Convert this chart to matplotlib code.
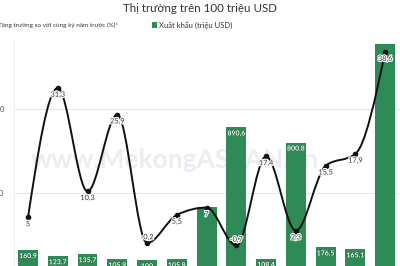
import numpy as np
import matplotlib
matplotlib.use('Agg')
import matplotlib.pyplot as plt
import matplotlib.patheffects as pe
from matplotlib.path import Path
from matplotlib.patches import PathPatch, Rectangle

plt.rcParams['font.family'] = ['Lato', 'DejaVu Sans']

# Dữ liệu
xuat_khau = [160.9, 123.7, 135.7, 105.9, 100, 105.8, 417, 890.6, 108.4, 800.8, 176.5, 165.1, 1387]
nhan_cot = ['160,9', '123,7', '135,7', '105,9', '100', '105,8', '', '890,6', '108,4', '800,8', '176,5', '165,1', '']
tang_truong = [5, 31.3, 10.3, 25.9, -0.2, 5.5, 7, -0.7, 17.4, 2.3, 15.5, 17.9, 38.6]
nhan_duong = ['5', '31,3', '10,3', '25,9', '-0,2', '5,5', '7', '-0,7', '17,4', '2,3', '15,5', '17,9', '38,6']

GREEN = '#2e8b57'

def monotone_path(x, y):
    # duong cong monotoneX (kieu d3) ve bang Bezier
    x = np.asarray(x, float); y = np.asarray(y, float)
    n = len(x)
    h = np.diff(x)
    s = np.diff(y) / h
    t = np.zeros(n)
    for i in range(1, n - 1):
        p = (s[i-1] * h[i] + s[i] * h[i-1]) / (h[i-1] + h[i])
        t[i] = (np.sign(s[i-1]) + np.sign(s[i])) * min(abs(s[i-1]), abs(s[i]), 0.5 * abs(p))
    t[0] = (3 * s[0] - t[1]) / 2
    t[-1] = (3 * s[-1] - t[-2]) / 2
    verts = [(x[0], y[0])]
    codes = [Path.MOVETO]
    for i in range(n - 1):
        dx = h[i] / 3
        verts += [(x[i] + dx, y[i] + dx * t[i]), (x[i+1] - dx, y[i+1] - dx * t[i+1]), (x[i+1], y[i+1])]
        codes += [Path.CURVE4] * 3
    return Path(verts, codes)

fig = plt.figure(figsize=(4, 2.66), dpi=100)
ax = fig.add_axes([0.035, -0.0414, 0.965, 0.891])
ax2 = ax.twinx()
ax2.set_position(ax.get_position())

x = np.arange(len(xuat_khau))
ax.bar(x, xuat_khau, width=0.67, color=GREEN, zorder=2)
ax.set_xlim(-0.47, 12.5)
ax.set_ylim(0, 1411)
ax.set_yticks([500, 1000])
ax.set_yticklabels(['500', '1.000'])
ax.tick_params(axis='y', length=0, pad=7, labelsize=5.5, labelcolor='#555555')
ax.set_xticks([])
ax.grid(axis='y', color='#e6e6e6', linewidth=0.7, zorder=0)
for sp in ['top', 'right', 'bottom']:
    ax.spines[sp].set_visible(False)
ax.spines['left'].set_color('#eeeeee')
ax.spines['left'].set_linewidth(0.7)

for xi, v, lab in zip(x, xuat_khau, nhan_cot):
    if lab:
        ax.annotate(lab, (xi, v), xytext=(0, -1.5), textcoords='offset points',
                    ha='center', va='top', fontsize=5, color='white', fontweight='bold',
                    zorder=4, path_effects=[pe.withStroke(linewidth=0.8, foreground='#1f6b41')])

ax.text(4.95, 1411 - (160 - 40) / 0.168, 'www.MekongASEAN.vn', ha='center', va='center',
        fontsize=19, fontweight='bold', color='#ececf3', zorder=1)

ax2.set_ylim(-7.11, 41.06)
ax2.axis('off')
ax2.add_patch(PathPatch(monotone_path(x, tang_truong), fill=False, edgecolor='#111111',
                        linewidth=1.4, zorder=3))
ax2.scatter(x, tang_truong, s=9, color='#111111', zorder=4)
for xi, v, lab in zip(x, tang_truong, nhan_duong):
    dy = 4.5 if v < 0 else -4.5
    ax2.annotate(lab, (xi, v), xytext=(0, dy), textcoords='offset points',
                 ha='center', va='center', fontsize=5.3, color='#333333', zorder=5,
                 path_effects=[pe.withStroke(linewidth=1.6, foreground='white')])

fig.text(0.5, 1 - 9 / 266, 'Thị trường trên 100 triệu USD', ha='center', va='center',
         fontsize=8.3, color='#333333')
ly = 1 - 25 / 266
fig.text(118 / 400, ly, 'Tăng trưởng so với cùng kỳ năm trước (%)*', ha='right', va='center',
         fontsize=4.6, color='#333333')
fig.patches.append(Rectangle((152 / 400, ly - 3 / 266), 5 / 400, 6 / 266, transform=fig.transFigure,
                             facecolor=GREEN, edgecolor='none'))
fig.text(159 / 400, ly, 'Xuất khẩu (triệu USD)', ha='left', va='center', fontsize=5.5, color='#333333')

fig.savefig('out.png', dpi=100)
